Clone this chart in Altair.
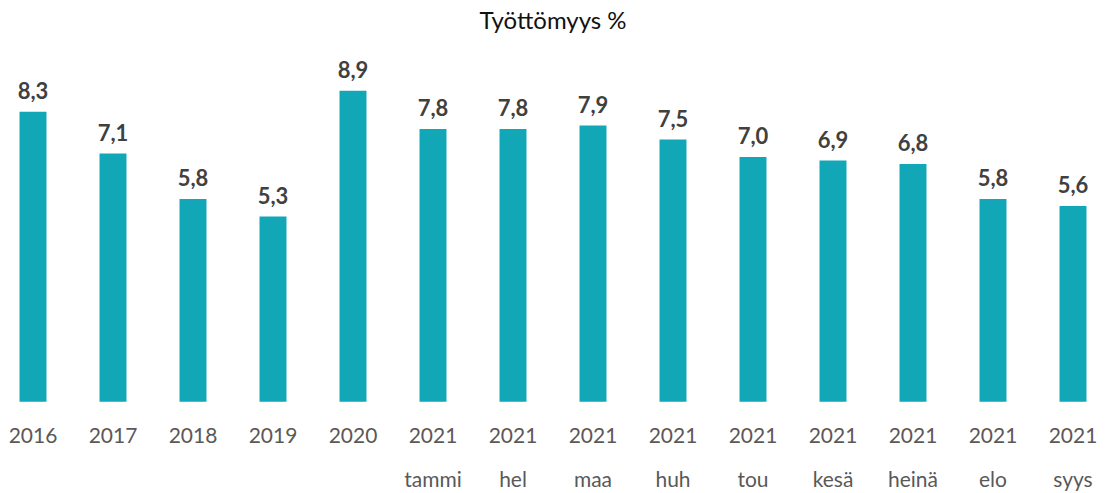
import altair as alt
import pandas as pd

categories = ["2016", "2017", "2018", "2019", "2020",
              "2021|tammi", "2021|hel", "2021|maa", "2021|huh", "2021|tou",
              "2021|kesä", "2021|heinä", "2021|elo", "2021|syys"]
values = [8.3, 7.1, 5.8, 5.3, 8.9, 7.8, 7.8, 7.9, 7.5, 7.0, 6.9, 6.8, 5.8, 5.6]
labels = [f"{v:.1f}".replace(".", ",") for v in values]

df = pd.DataFrame({"cat": categories, "value": values, "label": labels})

FONT = "Lato"

base = alt.Chart(df).encode(
    x=alt.X("cat:N", sort=None, title=None,
            scale=alt.Scale(paddingInner=0.663, paddingOuter=0.144),
            axis=alt.Axis(labelAngle=0, domain=False, ticks=False, grid=False,
                          labelExpr="split(datum.label, '|')",
                          labelFontSize=21, labelColor="#595959",
                          labelFont=FONT, labelPadding=24,
                          labelLineHeight=44, labelBaseline="top")),
    y=alt.Y("value:Q", title=None, scale=alt.Scale(domain=[0, 10]), axis=None),
)

bars = base.mark_bar(color="#12A7B7")
text = base.mark_text(dy=-8, baseline="bottom", fontSize=22, fontWeight="bold",
                      color="#404040", font=FONT).encode(text="label:N")

chart = (bars + text).properties(
    width=1091, height=350,
    title=alt.TitleParams("Työttömyys %", fontSize=24, font=FONT,
                          fontWeight="normal", color="#111111", offset=18),
).configure(
    padding={"top": 2, "left": 0, "right": 0, "bottom": 0}
).configure_view(stroke=None, strokeWidth=0)

chart.save("out.html", embed_options={"renderer": "svg", "actions": False})
